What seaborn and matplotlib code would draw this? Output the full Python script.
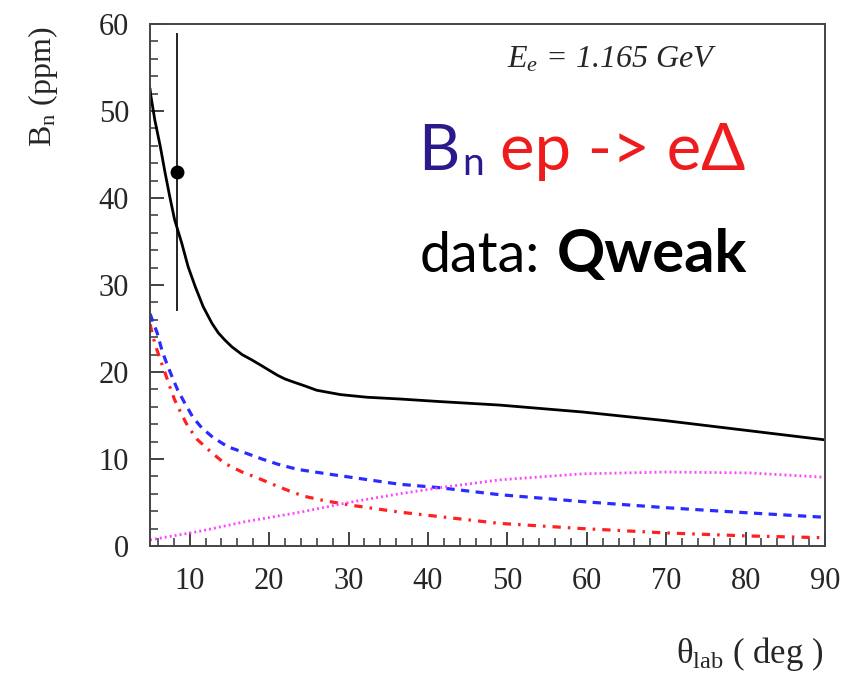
import numpy as np
import pandas as pd
import matplotlib
matplotlib.use("Agg")
import matplotlib.pyplot as plt
import seaborn as sns
from matplotlib.ticker import MultipleLocator

# ---- data ----
theta_total = [5.0, 5.1, 5.6, 6.3, 6.9, 7.5, 8.1, 9.0, 9.8, 10.7, 11.7, 12.8, 13.6, 14.4, 15.3, 16.6,
               17.8, 19.1, 20.0, 21.1, 22.0, 22.9, 24.5, 26, 29, 32.3, 36.4, 41.5, 49, 59.5, 70, 80, 90]
bn_total = [52.6, 51.8, 49.0, 45.9, 42.9, 40.1, 37.5, 34.8, 32.1, 29.8, 27.5, 25.6, 24.5, 23.7, 22.9, 22.0,
            21.4, 20.7, 20.2, 19.6, 19.2, 18.9, 18.4, 17.9, 17.4, 17.1, 16.9, 16.6, 16.2, 15.4, 14.4, 13.3, 12.2]

theta_blue = [5.0, 5.9, 6.5, 7.1, 7.8, 8.5, 9.4, 10.4, 11.5, 12.9, 14.8, 17.0, 19.1, 21.1, 23.6,
              28, 36.4, 41.5, 49, 59.5, 70, 80.5, 90]
bn_blue = [26.7, 24.5, 22.5, 21.0, 19.4, 17.9, 16.4, 14.8, 13.6, 12.5, 11.4, 10.7, 10.0, 9.4, 8.8,
           8.2, 7.1, 6.7, 5.9, 5.1, 4.4, 3.8, 3.3]

theta_red = [5.0, 5.6, 6.3, 6.9, 7.5, 8.1, 9.0, 9.8, 11.0, 12.8, 14.4, 16.6, 18.6, 20.7, 22.9,
             24.5, 27, 30.2, 36.4, 49, 59.5, 70, 80.5, 90]
bn_red = [25.5, 23.3, 21.4, 19.9, 18.3, 16.8, 15.1, 13.7, 12.2, 10.7, 9.5, 8.5, 7.8, 7.0, 6.2,
          5.7, 5.2, 4.7, 3.9, 2.6, 2.0, 1.5, 1.15, 0.95]

theta_mag = [5, 11.3, 17, 24, 30, 36.4, 41.5, 49, 59.5, 70, 80.5, 90]
bn_mag = [0.7, 1.7, 2.8, 3.9, 5.0, 6.0, 6.7, 7.6, 8.3, 8.5, 8.4, 7.9]

data_x = [8.35]
data_y = [43.0]
data_err = [16.0]

xticks = [10, 20, 30, 40, 50, 60, 70, 80, 90]
yticks = [0, 10, 20, 30, 40, 50, 60]

sns.set_style("ticks")
plt.rcParams["mathtext.fontset"] = "custom"
plt.rcParams["mathtext.rm"] = "Liberation Serif"
plt.rcParams["mathtext.it"] = "Liberation Serif:italic"
serif = ["Liberation Serif", "DejaVu Serif"]

fig = plt.figure(figsize=(8.64, 6.81), dpi=100)
ax = fig.add_axes([150/864, 1-546/681, 675/864, 522/681])

sns.lineplot(x=theta_total, y=bn_total, ax=ax, color="black", lw=2.0)
sns.lineplot(x=theta_blue, y=bn_blue, ax=ax, color="#2b2bff", lw=2.3, linestyle=(0, (2.6, 2.0)))
sns.lineplot(x=theta_red, y=bn_red, ax=ax, color="#ff2020", lw=2.3, linestyle=(0, (2.6, 2.2, 0.8, 2.2)))
sns.lineplot(x=theta_mag, y=bn_mag, ax=ax, color="#ff44ff", lw=2.0, linestyle=(0, (0.7, 1.1)))

ax.errorbar(data_x, data_y, yerr=data_err, fmt="o", color="black", ms=9, elinewidth=1.2, capsize=0)

ax.set_xlim(5, 90)
ax.set_ylim(0, 60)
ax.set_xticks(xticks)
ax.set_yticks(yticks)
ax.xaxis.set_minor_locator(MultipleLocator(2))
ax.yaxis.set_minor_locator(MultipleLocator(2))
ax.tick_params(axis="both", which="major", direction="in", length=10, width=1.3,
               labelsize=22, pad=15, color="#333333")
ax.tick_params(axis="both", which="minor", direction="in", length=6, width=1.1, color="#333333")
for lab in ax.get_xticklabels() + ax.get_yticklabels():
    lab.set_family(serif)
for s in ax.spines.values():
    s.set_linewidth(1.4)
    s.set_color("#444444")
ax.set_xlabel("")
ax.set_ylabel("")

fig.text(43/864, 1-87/681, r"B$_\mathregular{n}$ (ppm)", rotation=90, family=serif,
         fontsize=23, ha="center", va="center")
fig.text(823/864, 1-663/681, r"θ$_\mathregular{lab}$ ( deg )", family=serif,
         fontsize=25, ha="right", va="baseline")

ax.text(0.685, 0.916, r"$E_e$ = 1.165 GeV", transform=ax.transAxes, family=serif,
        fontsize=23, style="italic", ha="center", va="baseline")

sans = ["Lato", "DejaVu Sans"]
ax.text(0.397, 0.720, "B", transform=ax.transAxes, family=sans, fontsize=46,
        color="#2a1a8c", ha="left", va="baseline")
ax.text(0.462, 0.711, "n", transform=ax.transAxes, family=sans, fontsize=28,
        color="#2a1a8c", ha="left", va="baseline")
ax.text(0.5185, 0.720, "ep -> eΔ", transform=ax.transAxes, family=sans, fontsize=47,
        color="#ee1c1c", ha="left", va="baseline")
ax.text(0.400, 0.525, "data:", transform=ax.transAxes, family=sans, fontsize=40,
        color="black", ha="left", va="baseline")
ax.text(0.603, 0.525, "Qweak", transform=ax.transAxes, family=sans, fontsize=43,
        fontweight="bold", color="black", ha="left", va="baseline")

fig.savefig("out.png", dpi=100)
